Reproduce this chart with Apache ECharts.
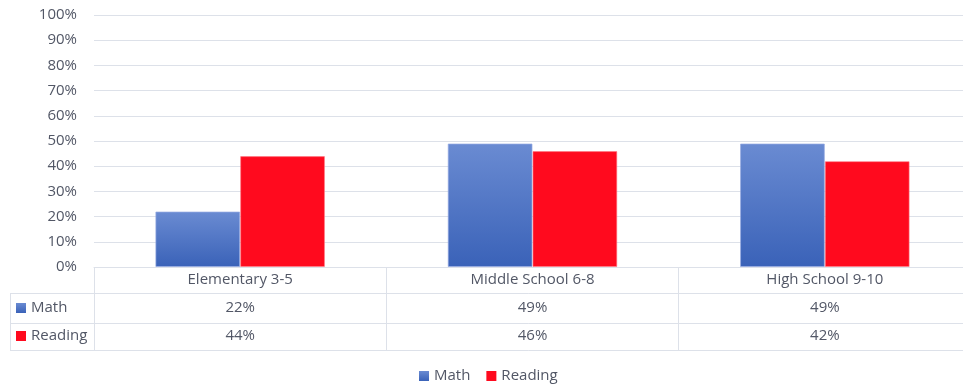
<!DOCTYPE html>
<html>
<head>
<meta charset="utf-8">
<script src="https://cdn.jsdelivr.net/npm/echarts@6/dist/echarts.min.js"></script>
<style>
  html, body { margin: 0; padding: 0; background: #fff; }
  #chart { width: 963px; height: 387px; }
</style>
</head>
<body>
<div id="chart"></div>
<script>
// Proficiency by school level
const categories = ['Elementary 3-5', 'Middle School 6-8', 'High School 9-10'];
const mathValues = [22, 49, 49];
const readingValues = [44, 46, 42];
const yTicks = [0, 10, 20, 30, 40, 50, 60, 70, 80, 90, 100];

const textColor = '#525766';
const lineColor = '#dde1e9';
const fontFamily = '"Open Sans", "Liberation Sans", sans-serif';
const fontSize = 15;

const pct = v => v + '%';

// grid geometry (the data table hangs below the plot)
const gridLeft = 94, gridTop = 15, gridWidth = 877, gridHeight = 252;
const axisY = gridTop + gridHeight;
const rowMath = 26, rowReading = 56, rowEnd = 83;
const tableLeft = 10;

const chart = echarts.init(document.getElementById('chart'), null, { renderer: 'canvas' });

function valueAxis(values, offset, margin) {
  return {
    type: 'category',
    position: 'bottom',
    offset: offset,
    data: values,
    boundaryGap: true,
    axisLine: { show: true, lineStyle: { color: lineColor, width: 1 } },
    axisTick: { show: false },
    axisLabel: {
      show: values.length > 0, interval: 0, margin: margin,
      color: textColor, fontFamily, fontSize, lineHeight: 16
    },
    splitLine: { show: false }
  };
}

const legendText = { color: textColor, fontFamily, fontSize, lineHeight: 16 };
const legendItem = { borderWidth: 0 };

const option = {
  backgroundColor: '#ffffff',
  animation: false,
  textStyle: { fontFamily },
  grid: {
    left: gridLeft, top: gridTop, width: gridWidth, height: gridHeight,
    containLabel: false, outerBoundsMode: 'none'
  },
  legend: [
    {
      // legend below the table
      data: ['Math', 'Reading'],
      left: 419, top: 368, padding: 0,
      orient: 'horizontal',
      icon: 'rect', itemWidth: 10, itemHeight: 10, itemGap: 16,
      itemStyle: legendItem,
      textStyle: legendText,
      selectedMode: false
    },
    {
      // row headers of the data table
      data: ['Math', 'Reading'],
      left: 16, top: 300, padding: 0,
      orient: 'vertical',
      icon: 'rect', itemWidth: 10, itemHeight: 10, itemGap: 12,
      itemStyle: legendItem,
      textStyle: legendText,
      selectedMode: false
    }
  ],
  xAxis: [
    {
      type: 'category',
      position: 'bottom',
      data: categories,
      boundaryGap: true,
      axisLine: { show: true, lineStyle: { color: lineColor, width: 1 } },
      axisTick: { show: true, interval: 0, length: rowEnd, lineStyle: { color: lineColor, width: 1 } },
      axisLabel: { interval: 0, margin: 5, color: textColor, fontFamily, fontSize, lineHeight: 16 },
      splitLine: { show: false }
    },
    valueAxis(mathValues.map(pct), rowMath, 7),
    valueAxis(readingValues.map(pct), rowReading, 5),
    valueAxis(categories.map(() => ''), rowEnd, 5)
  ],
  yAxis: {
    type: 'value',
    min: yTicks[0],
    max: yTicks[yTicks.length - 1],
    interval: yTicks[1] - yTicks[0],
    axisLine: { show: false },
    axisTick: { show: false },
    axisLabel: { formatter: '{value}%', margin: 17, color: textColor, fontFamily, fontSize },
    splitLine: { lineStyle: { color: lineColor, width: 1 } }
  },
  series: [
    {
      name: 'Math',
      type: 'bar',
      xAxisIndex: 0,
      data: mathValues,
      barGap: '0%',
      barCategoryGap: '42%',
      itemStyle: {
        color: new echarts.graphic.LinearGradient(0, 0, 0, 1, [
          { offset: 0, color: '#6a8bd2' },
          { offset: 1, color: '#3a62b8' }
        ]),
        borderColor: 'rgba(150,170,225,0.7)',
        borderWidth: 1
      }
    },
    {
      name: 'Reading',
      type: 'bar',
      xAxisIndex: 0,
      data: readingValues,
      barGap: '0%',
      barCategoryGap: '42%',
      itemStyle: {
        color: '#ff0a1e',
        borderColor: 'rgba(255,120,130,0.6)',
        borderWidth: 1
      }
    }
  ],
  graphic: [
    // left header column of the data table
    ...[axisY + rowMath, axisY + rowReading, axisY + rowEnd].map(y => ({
      type: 'line',
      shape: { x1: tableLeft, y1: y + 0.5, x2: gridLeft, y2: y + 0.5 },
      style: { stroke: lineColor, lineWidth: 1 },
      silent: true
    })),
    {
      type: 'line',
      shape: { x1: tableLeft + 0.5, y1: axisY + rowMath, x2: tableLeft + 0.5, y2: axisY + rowEnd },
      style: { stroke: lineColor, lineWidth: 1 },
      silent: true
    }
  ]
};

chart.setOption(option);
</script>
</body>
</html>
